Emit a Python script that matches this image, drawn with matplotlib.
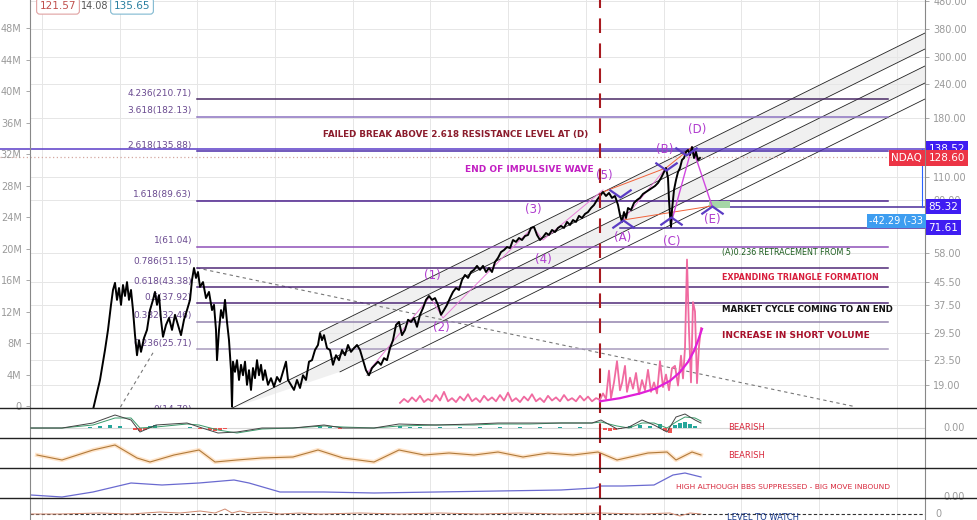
import matplotlib
matplotlib.use('Agg')
import matplotlib.pyplot as plt
from matplotlib.path import Path
from matplotlib.lines import Line2D
from matplotlib.ticker import NullLocator

plt.rcParams['font.family'] = ['DejaVu Sans']

# price path (bar index, close)
price_pts = [(93, 15.5), (100, 19.9), (105, 25.6), (108, 30.3), (111, 37.4), (113, 42.4), (115, 45.0),
             (117, 39.0), (119, 43.1), (121, 37.4), (123, 44.2), (125, 40.3), (127, 45.3), (129, 39.0),
             (131, 42.4), (133, 35.8), (135, 29.0), (137, 24.5), (139, 27.8), (141, 25.2), (144, 28.3),
             (147, 30.3), (150, 35.8), (153, 39.0), (155, 41.7), (157, 37.4), (159, 40.6), (161, 33.0),
             (163, 28.6), (166, 31.6), (169, 33.5), (172, 30.3), (175, 34.4), (178, 31.6), (181, 29.0),
             (184, 33.0), (187, 35.8), (190, 39.0), (192, 46.1), (194, 51.0), (196, 46.9), (198, 49.3),
             (200, 43.5), (203, 45.3), (206, 39.6), (209, 41.7), (212, 35.8), (214, 37.4), (216, 30.3),
             (217, 23.5), (219, 30.3), (221, 35.8), (223, 33.5), (225, 39.0), (227, 32.4), (229, 27.8),
             (231, 21.6), (232, 15.9), (233, 23.2), (235, 21.3), (237, 23.5), (239, 19.9), (241, 22.6),
             (243, 20.7), (245, 23.2), (247, 19.1), (249, 21.6), (251, 18.3), (253, 22.0), (255, 20.2),
             (257, 23.5), (259, 20.7), (261, 22.6), (263, 19.9), (265, 21.6), (268, 19.1), (271, 20.2),
             (274, 18.8), (277, 20.4), (280, 19.6), (283, 21.3), (286, 23.2), (288, 19.9), (291, 19.1),
             (294, 18.3), (297, 19.9), (300, 18.6), (303, 20.7), (306, 19.9), (309, 23.2), (312, 23.5),
             (315, 25.6), (318, 26.7), (320, 29.5), (322, 27.8), (324, 29.0), (327, 26.0), (330, 25.6),
             (333, 22.6), (336, 24.5), (339, 23.5), (342, 25.6), (345, 24.5), (348, 26.7), (351, 25.2),
             (354, 26.0), (357, 26.7), (360, 25.6), (363, 23.5), (366, 21.6), (369, 20.7), (372, 22.0),
             (375, 22.6), (378, 23.2), (381, 22.6), (384, 23.9), (387, 23.5), (390, 26.0), (393, 27.8),
             (396, 31.6), (399, 32.4), (402, 29.0), (405, 30.3), (408, 33.0), (411, 32.4), (414, 33.5),
             (417, 31.1), (420, 34.4), (423, 36.4), (426, 39.0), (429, 40.3), (432, 39.0), (435, 39.6),
             (438, 37.4), (441, 34.4), (444, 35.8), (447, 37.4), (450, 39.6), (453, 41.7), (456, 43.1),
             (459, 42.4), (462, 46.1), (465, 48.1), (468, 46.9), (471, 49.3), (474, 50.2), (477, 51.9),
             (480, 50.2), (483, 51.9), (486, 49.3), (489, 51.0), (492, 49.3), (495, 53.6), (498, 55.5),
             (501, 58.3), (504, 59.3), (507, 60.8), (510, 60.3), (513, 64.5), (516, 63.5), (519, 65.6),
             (522, 64.5), (525, 66.7), (528, 67.3), (531, 71.4), (534, 72.0), (537, 67.3), (540, 64.5),
             (543, 66.1), (546, 68.4), (549, 67.3), (552, 70.2), (555, 69.0), (558, 71.4), (561, 72.6),
             (564, 71.4), (567, 75.1), (570, 73.2), (573, 76.3), (576, 75.1), (579, 79.0), (582, 77.6),
             (585, 80.3), (588, 81.6), (591, 84.4), (594, 86.6), (597, 90.3), (600, 93.4), (603, 96.6),
             (606, 93.4), (609, 95.8), (612, 91.9), (615, 93.4), (618, 86.6), (620, 79.6), (622, 75.1),
             (624, 81.6), (626, 77.6), (628, 84.4), (631, 83.0), (634, 88.1), (637, 90.3), (640, 91.9),
             (643, 95.0), (646, 96.6), (649, 98.2), (652, 99.9), (655, 101.6), (658, 104.2), (661, 108.6),
             (664, 114.2), (666, 118.2), (668, 108.6), (669, 90.3), (670, 79.6), (671, 72.0), (672, 83.0),
             (674, 98.2), (676, 106.8), (678, 114.2), (680, 118.2), (682, 126.4), (684, 128.5), (686, 135.1),
             (688, 137.4), (690, 131.8), (692, 140.9), (694, 128.5), (696, 135.1), (698, 126.4), (700, 128.6)]

# short volume (millions)
svol_pts = [(400, 0.4), (404, 0.9), (408, 0.5), (412, 1.1), (416, 0.6), (420, 1.3), (424, 0.5), (428, 0.9),
            (432, 0.6), (436, 1.4), (440, 0.7), (444, 1.8), (448, 0.6), (452, 1.0), (456, 0.5), (460, 1.2),
            (464, 0.7), (468, 1.5), (472, 0.6), (476, 1.0), (480, 0.5), (484, 1.3), (488, 0.7), (492, 1.1),
            (496, 0.6), (500, 1.4), (504, 0.7), (508, 1.7), (512, 0.6), (516, 1.0), (520, 0.5), (524, 1.2),
            (528, 0.7), (532, 1.5), (536, 0.6), (540, 1.0), (544, 0.5), (548, 1.3), (552, 0.7), (556, 1.1),
            (560, 0.6), (564, 1.4), (568, 0.7), (572, 1.0), (576, 0.6), (580, 1.3), (584, 0.7), (588, 1.2),
            (592, 0.6), (596, 1.0), (600, 0.8), (603, 1.6), (606, 0.9), (609, 4.5), (611, 1.0), (614, 3.0),
            (617, 5.7), (620, 2.0), (622, 2.9), (625, 5.1), (627, 1.8), (630, 3.6), (633, 2.2), (636, 4.2),
            (639, 1.5), (642, 3.3), (645, 2.0), (648, 4.6), (651, 1.8), (654, 3.0), (657, 1.6), (660, 5.7),
            (663, 2.4), (666, 4.0), (669, 2.0), (672, 4.8), (675, 5.1), (678, 2.6), (681, 6.4), (683, 3.5),
            (685, 7.4), (687, 18.6), (689, 9.5), (691, 3.0), (693, 13.2), (695, 12.0), (697, 2.9), (699, 7.6),
            (701, 9.9)]
svol_fit_t = [600, 620, 640, 655, 670, 680, 688, 694, 698, 702]
svol_fit = [0.6, 1.0, 1.6, 2.2, 3.2, 4.3, 5.6, 7.0, 8.3, 9.8]

fib_ratio = ['0', '0.236', '0.382', '0.5', '0.618', '0.786', '1', '1.618', '2.618', '3.618', '4.236']
fib_price = [14.79, 25.71, 32.46, 37.92, 43.38, 51.15, 61.04, 89.63, 135.88, 182.13, 210.71]
fib_color = ['#333333', '#a89bbd', '#9384ad', '#4f2a78', '#4f2a78', '#4f2a78', '#8e4fb8',
             '#4a1f8c', '#4b2ca8', '#8c73c0', '#4a2a66']

# parallel channel: (start bar, start price, end bar, end price)
chan = [(320, 29.8, 925, 367.4), (330, 27.1, 925, 321.2), (232, 15.7, 925, 278.5),
        (340, 21.3, 925, 241.4), (367, 20.7, 925, 211.0)]
trend1 = [(197, 51.0), (855, 15.9)]
trend2 = [(117, 15.1), (153, 25.0)]

wave_t = [367, 430, 443, 533, 543, 603]
wave_p = [21.1, 40.0, 33.5, 72.0, 64.5, 98.2]
upper_t, upper_p = [603, 666, 692], [96.6, 118.2, 140.9]
lower_t, lower_p = [623, 712], [76.3, 85.9]
v_marks = [(620, 92.6), (666, 116.2), (686, 131.8)]
a_marks = [(623, 76.3), (671, 78.3), (712, 85.9)]

price_ticks = [19, 23.5, 29.5, 37.5, 45.5, 58, 90, 110, 180, 240, 300, 380, 480]
vol_ticks = list(range(0, 49, 4))
grid_t = [42 + 77.7 * k for k in range(12)]
event_t = 600

osc_t = [31, 62, 93, 115, 131, 140, 156, 187, 199, 218, 237, 262, 293, 324, 343, 374, 399, 436, 474, 498,
         530, 561, 592, 601, 617, 629, 642, 654, 667, 676, 685, 695, 701]
osc_a = [0, 0, 5, 13, 8, -4, 3, 5, 1, -5, -4, 0, 0, 3, 0, 0, 4, 3, 4, 5, 5, 5, 5, 8, -1, 1, 8, 3, -4, 11, 14, 8, 5]
osc_b = [0, 0, 3, 10, 10, 0, 1, 4, 3, -2, -5, -1, 0, 2, 1, 0, 2, 3, 3, 4, 4, 5, 5, 6, 2, 0, 5, 5, 0, 6, 11, 10, 7]
hist_t = [90, 100, 110, 120, 135, 140, 145, 150, 155, 190, 200, 210, 215, 220, 225, 320, 330, 340, 400, 410,
          420, 440, 460, 480, 500, 520, 540, 560, 580, 605, 610, 615, 620, 630, 640, 650, 660, 665, 670, 675,
          680, 685, 690, 695]
hist_v = [1, 2, 3, 2, -2, -3, -2, 2, 3, 1, -1, -2, -3, -2, -1, 2, 1, -1, 2, 1, 1, 1, 1, 1, 1, 1, 1, 1, 1,
          -2, -3, -2, -1, 2, 3, 2, 4, -3, -5, 3, 5, 6, 4, 2]
rsi_t = [37, 62, 93, 115, 137, 150, 174, 199, 215, 237, 262, 293, 318, 343, 374, 399, 424, 449, 474, 498,
         523, 548, 573, 598, 617, 648, 667, 676, 692, 701]
rsi_v = [-2, -7, 3, 8, -5, -9, -2, 3, -9, -7, -5, -4, 3, -5, -9, 3, -2, 0, -2, 1, -4, 0, -2, 1, -7, 0, 1, -7, 1, -2]
bbw_t = [31, 62, 93, 131, 162, 199, 234, 249, 280, 324, 374, 436, 498, 561, 595, 601, 623, 654, 673, 685, 701]
bbw_v = [2, 0, 5, 14, 12, 14, 17, 14, 5, 5, 4, 5, 6, 7, 9, 11, 11, 12, 22, 24, 20]
lvl_t = [31, 60, 100, 130, 160, 180, 200, 215, 225, 232, 240, 250, 265, 280, 300, 320, 360, 400, 440, 480,
         520, 560, 600, 640, 670, 680, 690, 701]
lvl_v = [0, 0, 1, 0, 2, 1, 3, 1, 5, 1, 3, 1, 2, 0, 1, 0, 1, 0, 1, 0, 1, 0, 1, 0, 1, -2, 1, 0]

W, H = 977, 520


def rect(x0, y0, x1, y1):
    return [x0 / W, 1 - y1 / H, (x1 - x0) / W, (y1 - y0) / H]


def fx(x):
    return x / W


def fy(y):
    return 1 - y / H


fig = plt.figure(figsize=(W / 100, H / 100), dpi=100)
fig.patch.set_facecolor('white')

gray = '#9a9a9a'
ax = fig.add_axes(rect(30, 0, 925, 408))
axv = ax.twinx()

ax.set_yscale('log')
ax.set_ylim(15.72, 484.9)
ax.set_xlim(30, 925)
ax.yaxis.tick_right()
ax.set_yticks(price_ticks)
ax.set_yticklabels(['%.2f' % v for v in price_ticks])
ax.yaxis.set_minor_locator(NullLocator())
ax.set_xticks(grid_t)
ax.set_xticklabels([])
ax.tick_params(axis='x', length=0)
ax.tick_params(axis='y', colors=gray, labelsize=7, length=3, width=0.6, pad=3)
ax.grid(True, color='#e6e6e6', lw=0.7)
for s in ['top', 'bottom']:
    ax.spines[s].set_visible(False)
for s in ['left', 'right']:
    ax.spines[s].set_color('#888888')
    ax.spines[s].set_linewidth(0.8)

axv.set_ylim(-0.25, 51.56)
axv.yaxis.tick_left()
axv.set_yticks(vol_ticks)
axv.set_yticklabels(['0'] + ['%dM' % v for v in vol_ticks[1:]])
axv.tick_params(axis='y', colors=gray, labelsize=7, length=3, width=0.6, pad=3)
for s in axv.spines.values():
    s.set_visible(False)

# channel with shading
for i, j in [(0, 1), (2, 3)]:
    a, b = chan[i], chan[j]
    ax.fill([a[0], a[2], b[2], b[0]], [a[1], a[3], b[3], b[1]], color='#f0f0f0', zorder=1, lw=0)
for c in chan:
    ax.plot([c[0], c[2]], [c[1], c[3]], color='#222222', lw=0.6, zorder=2)

for tr in (trend1, trend2):
    ax.plot([p[0] for p in tr], [p[1] for p in tr], color='#777777', lw=0.8, ls=(0, (3, 3)), zorder=2)

# fib levels
for r, p, c in zip(fib_ratio, fib_price, fib_color):
    ax.plot([197, 888], [p, p], color=c, lw=1.1, zorder=2)
    ax.text(192, p * 1.012, '%s(%.2f)' % (r, p), ha='right', va='bottom', fontsize=6.5,
            color='#6a4a90', zorder=3, clip_on=True)

# key horizontal levels
ax.plot([0, 925], [138.52, 138.52], color='#5a3cc8', lw=1.1, clip_on=False, zorder=2)
ax.plot([0, 925], [130.0, 130.0], color='#d4a8a0', lw=0.9, ls=(0, (1, 2)), clip_on=False, zorder=2)
ax.plot([710, 925], [85.32, 85.32], color='#4a2c9a', lw=1.1, zorder=2)
ax.plot([620, 925], [71.61, 71.61], color='#4a2c9a', lw=1.1, zorder=2)
ax.plot([922, 922], [138.52, 85.32], color='#2962ff', lw=0.8, zorder=2)
ax.fill([709, 730, 730, 709], [84.5, 84.5, 89.3, 89.3], color='#a5d6a7', lw=0, zorder=2)

# price
ax.plot([p[0] for p in price_pts], [p[1] for p in price_pts], color='black', lw=1.4, zorder=4)

# wave structure
ax.plot(wave_t, wave_p, color='#e880d8', lw=0.7, zorder=3)
ax.plot(upper_t, upper_p, color='#f0623a', lw=0.7, zorder=3)
ax.plot(lower_t, lower_p, color='#f0623a', lw=0.7, zorder=3)
ax.plot([623, 666], [76.3, 118.2], color='#e880d8', lw=0.7, zorder=3)
ax.plot([671, 692], [74.0, 140.9], color='#d048e0', lw=1.0, zorder=3)
ax.plot([694, 712], [135.1, 85.9], color='#d048e0', lw=1.0, zorder=3)

v_path = Path([(-1, 0.7), (0, 0), (1, 0.7)], [Path.MOVETO, Path.LINETO, Path.LINETO])
a_path = Path([(-1, -0.7), (0, 0), (1, -0.7)], [Path.MOVETO, Path.LINETO, Path.LINETO])
ax.plot([m[0] for m in v_marks], [m[1] for m in v_marks], ls='none', marker=v_path, ms=16,
        mfc='none', mec='#5b3cc4', mew=1.6, zorder=5)
ax.plot([m[0] for m in a_marks], [m[1] for m in a_marks], ls='none', marker=a_path, ms=16,
        mfc='none', mec='#5b3cc4', mew=1.6, zorder=5)

# short volume
axv.plot([p[0] for p in svol_pts], [p[1] for p in svol_pts], color='#f06aa0', lw=1.3, zorder=3)
axv.plot(svol_fit_t, svol_fit, color='#e020d8', lw=1.6, zorder=4)

# right price labels
ytr = ax.get_yaxis_transform()
box = dict(boxstyle='square,pad=0.25', lw=0)
for v, col in [(138.52, '#3f1df2'), (85.32, '#3f1df2'), (71.61, '#3f1df2')]:
    ax.text(1.004, v, '%.2f' % v, transform=ytr, ha='left', va='center', color='white', fontsize=7.5,
            bbox=dict(box, fc=col), zorder=6, clip_on=False)
ax.text(1.004, 128.6, '128.60', transform=ytr, ha='left', va='center', color='white', fontsize=7.5,
        bbox=dict(box, fc='#ec3445'), zorder=6, clip_on=False)
ax.text(0.997, 128.6, 'NDAQ', transform=ytr, ha='right', va='center', color='white', fontsize=7.5,
        bbox=dict(box, fc='#ec3445'), zorder=6, clip_on=False)
ax.text(0.998, 75.7, '-42.29 (-33', transform=ytr, ha='right', va='center', color='white', fontsize=7,
        bbox=dict(box, fc='#3d9df0'), zorder=6, clip_on=False)

# sub panels
panels = []
for y0, y1, lo, hi in [(408, 438, -10, 20), (438, 468, -15, 15), (468, 498, -1, 29), (498, 520, -6, 16)]:
    p = fig.add_axes(rect(30, y0, 925, y1))
    p.set_xlim(30, 925)
    p.set_ylim(lo, hi)
    p.set_xticks(grid_t)
    p.set_xticklabels([])
    p.set_yticks([])
    p.tick_params(axis='x', length=0)
    p.grid(True, axis='x', color='#e6e6e6', lw=0.7)
    for s in ['top', 'bottom']:
        p.spines[s].set_visible(False)
    for s in ['left', 'right']:
        p.spines[s].set_color('#888888')
        p.spines[s].set_linewidth(0.8)
    panels.append(p)

p1, p2, p3, p4 = panels
p1.axhline(0, color='#d8d8d8', lw=0.8)
p1.bar(hist_t, hist_v, width=4, color=['#26a69a' if v > 0 else '#ef5350' for v in hist_v], zorder=2)
p1.plot(osc_t, osc_b, color='#3a9a6a', lw=0.7, zorder=3)
p1.plot(osc_t, osc_a, color='#444444', lw=0.7, zorder=3)
p2.plot(rsi_t, rsi_v, color='#ffcc99', lw=3, alpha=0.5)
p2.plot(rsi_t, rsi_v, color='#b07a3a', lw=0.8)
p3.plot(bbw_t, bbw_v, color='#6a6ad0', lw=0.9)
p4.axhline(0, color='#333333', lw=0.8, ls=(0, (3, 2)))
p4.plot(lvl_t, lvl_v, color='#d08a70', lw=0.7)

p1.text(1.02, 0, '0.00', transform=p1.get_yaxis_transform(), fontsize=7, color=gray, va='center')
p3.text(1.02, 0, '0.00', transform=p3.get_yaxis_transform(), fontsize=7, color=gray, va='center')
p4.text(1.012, 0, '0', transform=p4.get_yaxis_transform(), fontsize=7, color=gray, va='center')

for a in [ax] + panels:
    a.axvline(event_t, color='#a81a20', lw=1.5, ls=(0, (7, 5)), zorder=5)

for yy in [408, 438, 468, 498]:
    fig.add_artist(Line2D([0, 1], [fy(yy), fy(yy)], color='#222222', lw=1.0))


# annotations
def note(x, y, s, c, size=7, bold=True, ha='left'):
    fig.text(fx(x), fy(y), s, color=c, fontsize=size, ha=ha, va='center',
             fontweight='bold' if bold else 'normal')


note(323, 135, 'FAILED BREAK ABOVE 2.618 RESISTANCE LEVEL AT (D)', '#8b1c2c', 6.3)
note(465, 170, 'END OF IMPULSIVE WAVE', '#c21fc2', 6.5)
for s, x, y in [('(5)', 604, 176), ('(3)', 533, 209), ('(4)', 543, 259), ('(1)', 432, 276),
                ('(2)', 441, 328), ('(A)', 623, 238), ('(B)', 665, 150), ('(C)', 672, 241),
                ('(D)', 697, 129), ('(E)', 712, 220)]:
    note(x, y, s, '#b03ccf', 8.5, False, 'center')
note(722, 253, '(A)0.236 RETRACEMENT FROM 5', '#1e5e20', 5.8, False)
note(722, 277, 'EXPANDING TRIANGLE FORMATION', '#d81e3c', 5.8)
note(722, 310, 'MARKET CYCLE COMING TO AN END', '#111111', 6.2)
note(722, 335, 'INCREASE IN SHORT VOLUME', '#a8102a', 6.5)
note(728, 427, 'BEARISH', '#d8283c', 6, False)
note(728, 456, 'BEARISH', '#d8283c', 6, False)
note(676, 487, 'HIGH ALTHOUGH BBS SUPPRESSED - BIG MOVE INBOUND', '#d8283c', 5.4, False)
note(727, 517, 'LEVEL TO WATCH', '#1a3a8c', 6, False)

# header values
fig.text(fx(58), fy(6), '121.57', color='#c0504d', fontsize=7.5, ha='center', va='center',
         bbox=dict(boxstyle='round,pad=0.3', fc='white', ec='#e0a0a0', lw=0.8))
fig.text(fx(95), fy(6), '14.08', color='#555555', fontsize=7, ha='center', va='center')
fig.text(fx(132), fy(6), '135.65', color='#2a7fa0', fontsize=7.5, ha='center', va='center',
         bbox=dict(boxstyle='round,pad=0.3', fc='white', ec='#7fb8d0', lw=0.8))

fig.savefig('out.png', dpi=100)
